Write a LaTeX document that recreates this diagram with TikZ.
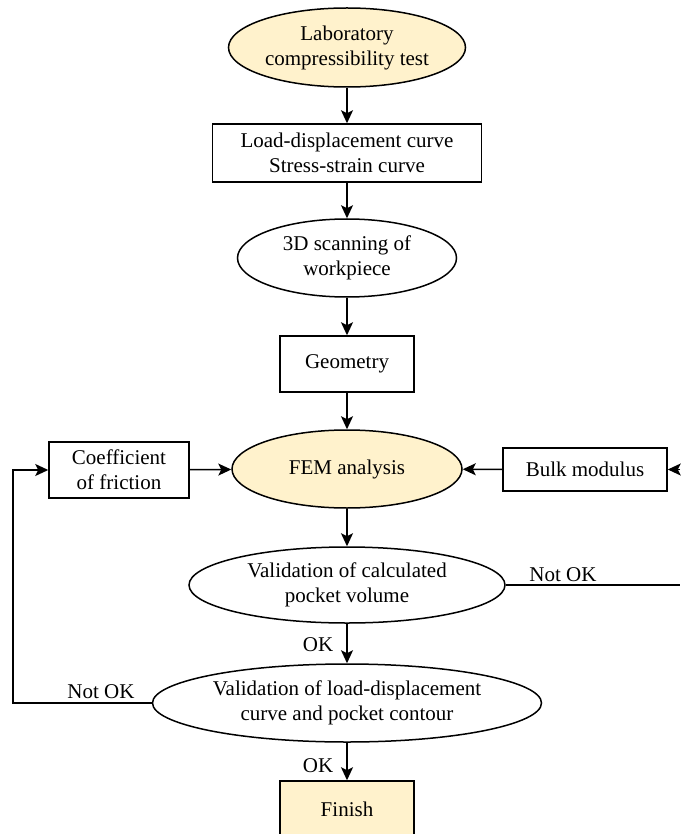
\documentclass[tikz,border=0pt]{standalone}
\usepackage{fontspec}
\setmainfont{Liberation Serif}
\usetikzlibrary{shapes.geometric,arrows.meta,positioning,calc}
\definecolor{paleyellow}{RGB}{255,242,204}

\begin{document}
\begin{tikzpicture}[x=1pt, y=-1pt,
  every node/.style={font=\fontsize{21}{25}\selectfont, align=center, inner sep=0pt},
  stepbox/.style={rectangle, draw, line width=1.5pt},
  oval/.style={ellipse, draw, line width=1.5pt},
  flow/.style={line width=1.5pt, -{Stealth[length=13pt, width=12pt, inset=3pt]}},
  link/.style={line width=1.5pt}]
  \useasboundingbox (0,0) rectangle (680,834);

  % main column
  \node[oval, fill=paleyellow, minimum width=237pt, minimum height=79pt] (lab) at (347,47.5) {Laboratory\\compressibility test};
  \node[stepbox, minimum width=269pt, minimum height=58pt] (curves) at (347,153) {Load-displacement curve\\Stress-strain curve};
  \node[oval, minimum width=219pt, minimum height=78pt] (scan) at (347,258) {3D scanning of\\workpiece};
  \node[stepbox, minimum width=134pt, minimum height=56pt] (geo) at (347,364) {Geometry};
  \node[oval, fill=paleyellow, minimum width=230pt, minimum height=78pt] (fem) at (347,469) {FEM analysis};
  \node[oval, minimum width=316pt, minimum height=76pt] (volume) at (347,585) {Validation of calculated\\pocket volume};
  \node[oval, minimum width=389pt, minimum height=78pt] (contour) at (347,703) {Validation of load-displacement\\curve and pocket contour};
  \node[stepbox, fill=paleyellow, minimum width=134pt, minimum height=56pt] (finish) at (347,809) {Finish};

  % side inputs
  \node[stepbox, minimum width=140pt, minimum height=56pt] (friction) at (119,470) {Coefficient\\of friction};
  \node[stepbox, minimum width=164pt, minimum height=43pt] (bulk) at (585,469.5) {Bulk modulus};

  \draw[flow] (lab) -- (curves);
  \draw[flow] (curves) -- (scan);
  \draw[flow] (scan) -- (geo);
  \draw[flow] (geo) -- (fem);
  \draw[flow] (fem) -- (volume);
  \draw[flow] (volume) -- (contour);
  \draw[flow] (contour) -- (finish);
  \draw[flow] (friction) -- (fem);
  \draw[flow] (bulk) -- (fem);

  \coordinate (bulkin) at (680,469.5);
  \coordinate (volout) at (680,585);
  \coordinate (loop) at (13,703);
  \draw[flow] (bulkin) -- (bulk.east);
  \draw[link] (volume.east) -- (volout);
  \draw[flow] (contour.west) -- (loop) |- (friction.west);

  \node (ok1) at (318,645) {OK};
  \node (ok2) at (318,766) {OK};
  \node (nok1) at (563,575) {Not OK};
  \node (nok2) at (101,692) {Not OK};
\end{tikzpicture}
\end{document}
